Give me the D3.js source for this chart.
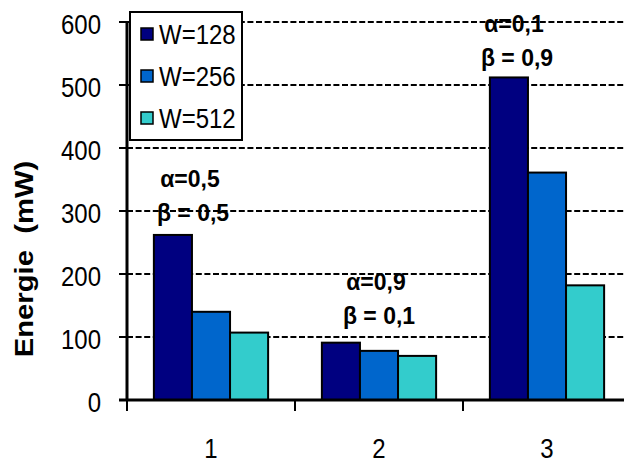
<!DOCTYPE html>
<html>
<head>
<meta charset="utf-8">
<script src="https://cdn.jsdelivr.net/npm/d3@7"></script>
<style>
  html, body { margin: 0; padding: 0; background: #fff; }
  svg { display: block; font-family: "Liberation Sans", Arial, sans-serif; }
</style>
</head>
<body>
<div id="viz"></div>
<script>
// values
var categories = ["1", "2", "3"];
var seriesNames = ["W=128", "W=256", "W=512"];
var w128 = [262, 91, 512];
var w256 = [140, 78, 361];
var w512 = [107, 70, 182];
var seriesColors = ["#000080", "#0066cc", "#33cccc"];
var alphaLabels = ["α=0,5", "α=0,9", "α=0,1"];
var betaLabels = ["β = 0,5", "β = 0,1", "β = 0,9"];
var alphaLevel = [338, 175, 584];   // where the annotation sits, in mW
var annoShift = [-21, -3, -33];      // px from the category centre
var yTicks = [0, 100, 200, 300, 400, 500, 600];

var W = 624, H = 463;
var stretch = 1.17; // the original text is drawn a little tall

var svg = d3.select("#viz").append("svg")
    .attr("width", W)
    .attr("height", H);

var x0 = d3.scaleBand().domain(categories).range([127, 631]).padding(0);
var x1 = d3.scaleBand().domain(seriesNames)
    .range([x0.bandwidth() * 0.16, x0.bandwidth() * 0.84]).padding(0);
var y = d3.scaleLinear().domain([0, 600]).range([400, 22]);

var rows = categories.map(function(c, i) {
  return {cat: c, vals: [w128[i], w256[i], w512[i]]};
});

function txt(sel, xx, yy) {
  return sel.attr("transform", "translate(" + xx + "," + yy + ") scale(1," + stretch + ")");
}

// dashed grid lines
svg.append("g").selectAll("line")
    .data(yTicks.filter(function(d) { return d > 0; }))
  .enter().append("line")
    .attr("x1", 127).attr("x2", W)
    .attr("y1", function(d) { return y(d); })
    .attr("y2", function(d) { return y(d); })
    .attr("stroke", "#000")
    .attr("stroke-width", 2.2)
    .attr("stroke-dasharray", "6,2.6");

// bars
var grp = svg.append("g").selectAll("g")
    .data(rows)
  .enter().append("g")
    .attr("transform", function(d) { return "translate(" + x0(d.cat) + ",0)"; });

grp.selectAll("rect")
    .data(function(d) { return d.vals.map(function(v, j) { return {s: seriesNames[j], v: v, j: j}; }); })
  .enter().append("rect")
    .attr("x", function(d) { return x1(d.s); })
    .attr("width", x1.bandwidth())
    .attr("y", function(d) { return y(d.v); })
    .attr("height", function(d) { return y(0) - y(d.v); })
    .attr("fill", function(d) { return seriesColors[d.j]; })
    .attr("stroke", "#000")
    .attr("stroke-width", 2);

// axes
var yAxis = svg.append("g");
yAxis.append("line")
    .attr("x1", 127).attr("x2", 127)
    .attr("y1", y(600) - 1).attr("y2", y(0) + 1)
    .attr("stroke", "#000").attr("stroke-width", 3);
yAxis.selectAll("line.tk")
    .data(yTicks)
  .enter().append("line")
    .attr("class", "tk")
    .attr("x1", 119).attr("x2", 127)
    .attr("y1", function(d) { return y(d); })
    .attr("y2", function(d) { return y(d); })
    .attr("stroke", "#000").attr("stroke-width", 2);
yAxis.selectAll("text")
    .data(yTicks)
  .enter().append("text")
    .each(function(d) { txt(d3.select(this), 101, y(d) + 12); })
    .attr("text-anchor", "end")
    .style("font-size", "24px")
    .text(function(d) { return d; });

var xAxis = svg.append("g");
xAxis.append("line")
    .attr("x1", 119).attr("x2", W)
    .attr("y1", y(0)).attr("y2", y(0))
    .attr("stroke", "#000").attr("stroke-width", 3);
xAxis.selectAll("line.tk")
    .data(categories)
  .enter().append("line")
    .attr("class", "tk")
    .attr("x1", function(d) { return x0(d); })
    .attr("x2", function(d) { return x0(d); })
    .attr("y1", y(0)).attr("y2", y(0) + 11)
    .attr("stroke", "#000").attr("stroke-width", 2);
xAxis.selectAll("text")
    .data(categories)
  .enter().append("text")
    .each(function(d) { txt(d3.select(this), x0(d) + x0.bandwidth() / 2, 458); })
    .attr("text-anchor", "middle")
    .style("font-size", "24px")
    .text(function(d) { return d; });

// y label
svg.append("text")
    .attr("transform", "translate(33,259) scale(1," + stretch + ") rotate(-90)")
    .attr("text-anchor", "middle")
    .style("font-size", "25px")
    .style("font-weight", "bold")
    .style("white-space", "pre")
    .text("Energie  (mW)");

// alpha / beta annotations
var anno = svg.append("g").selectAll("g")
    .data(categories)
  .enter().append("g");
anno.append("text")
    .each(function(d, i) { d3.select(this).attr("transform", "translate(" + (x0(d) + x0.bandwidth() / 2 + annoShift[i]) + "," + y(alphaLevel[i]) + ") scale(1,1.04)"); })
    .attr("text-anchor", "middle")
    .style("font-size", "23px")
    .style("font-weight", "bold")
    .text(function(d, i) { return alphaLabels[i]; });
anno.append("text")
    .each(function(d, i) { d3.select(this).attr("transform", "translate(" + (x0(d) + x0.bandwidth() / 2 + annoShift[i] + 3) + "," + (y(alphaLevel[i]) + 34) + ") scale(1,1.04)"); })
    .attr("text-anchor", "middle")
    .style("font-size", "23px")
    .style("font-weight", "bold")
    .text(function(d, i) { return betaLabels[i]; });

// legend
var leg = svg.append("g");
leg.append("rect")
    .attr("x", 130).attr("y", 12)
    .attr("width", 112).attr("height", 128)
    .attr("fill", "#fff")
    .attr("stroke", "#000").attr("stroke-width", 2);
var legRow = d3.scaleLinear().domain([0, 2]).range([34, 118]);
leg.selectAll("rect.sw")
    .data(seriesNames)
  .enter().append("rect")
    .attr("class", "sw")
    .attr("x", 141)
    .attr("y", function(d, i) { return legRow(i) - 6; })
    .attr("width", 12).attr("height", 12)
    .attr("fill", function(d, i) { return seriesColors[i]; })
    .attr("stroke", "#000").attr("stroke-width", 1.5);
leg.selectAll("text")
    .data(seriesNames)
  .enter().append("text")
    .each(function(d, i) { txt(d3.select(this), 159, legRow(i) + 10); })
    .style("font-size", "24px")
    .text(function(d) { return d; });
</script>
</body>
</html>
